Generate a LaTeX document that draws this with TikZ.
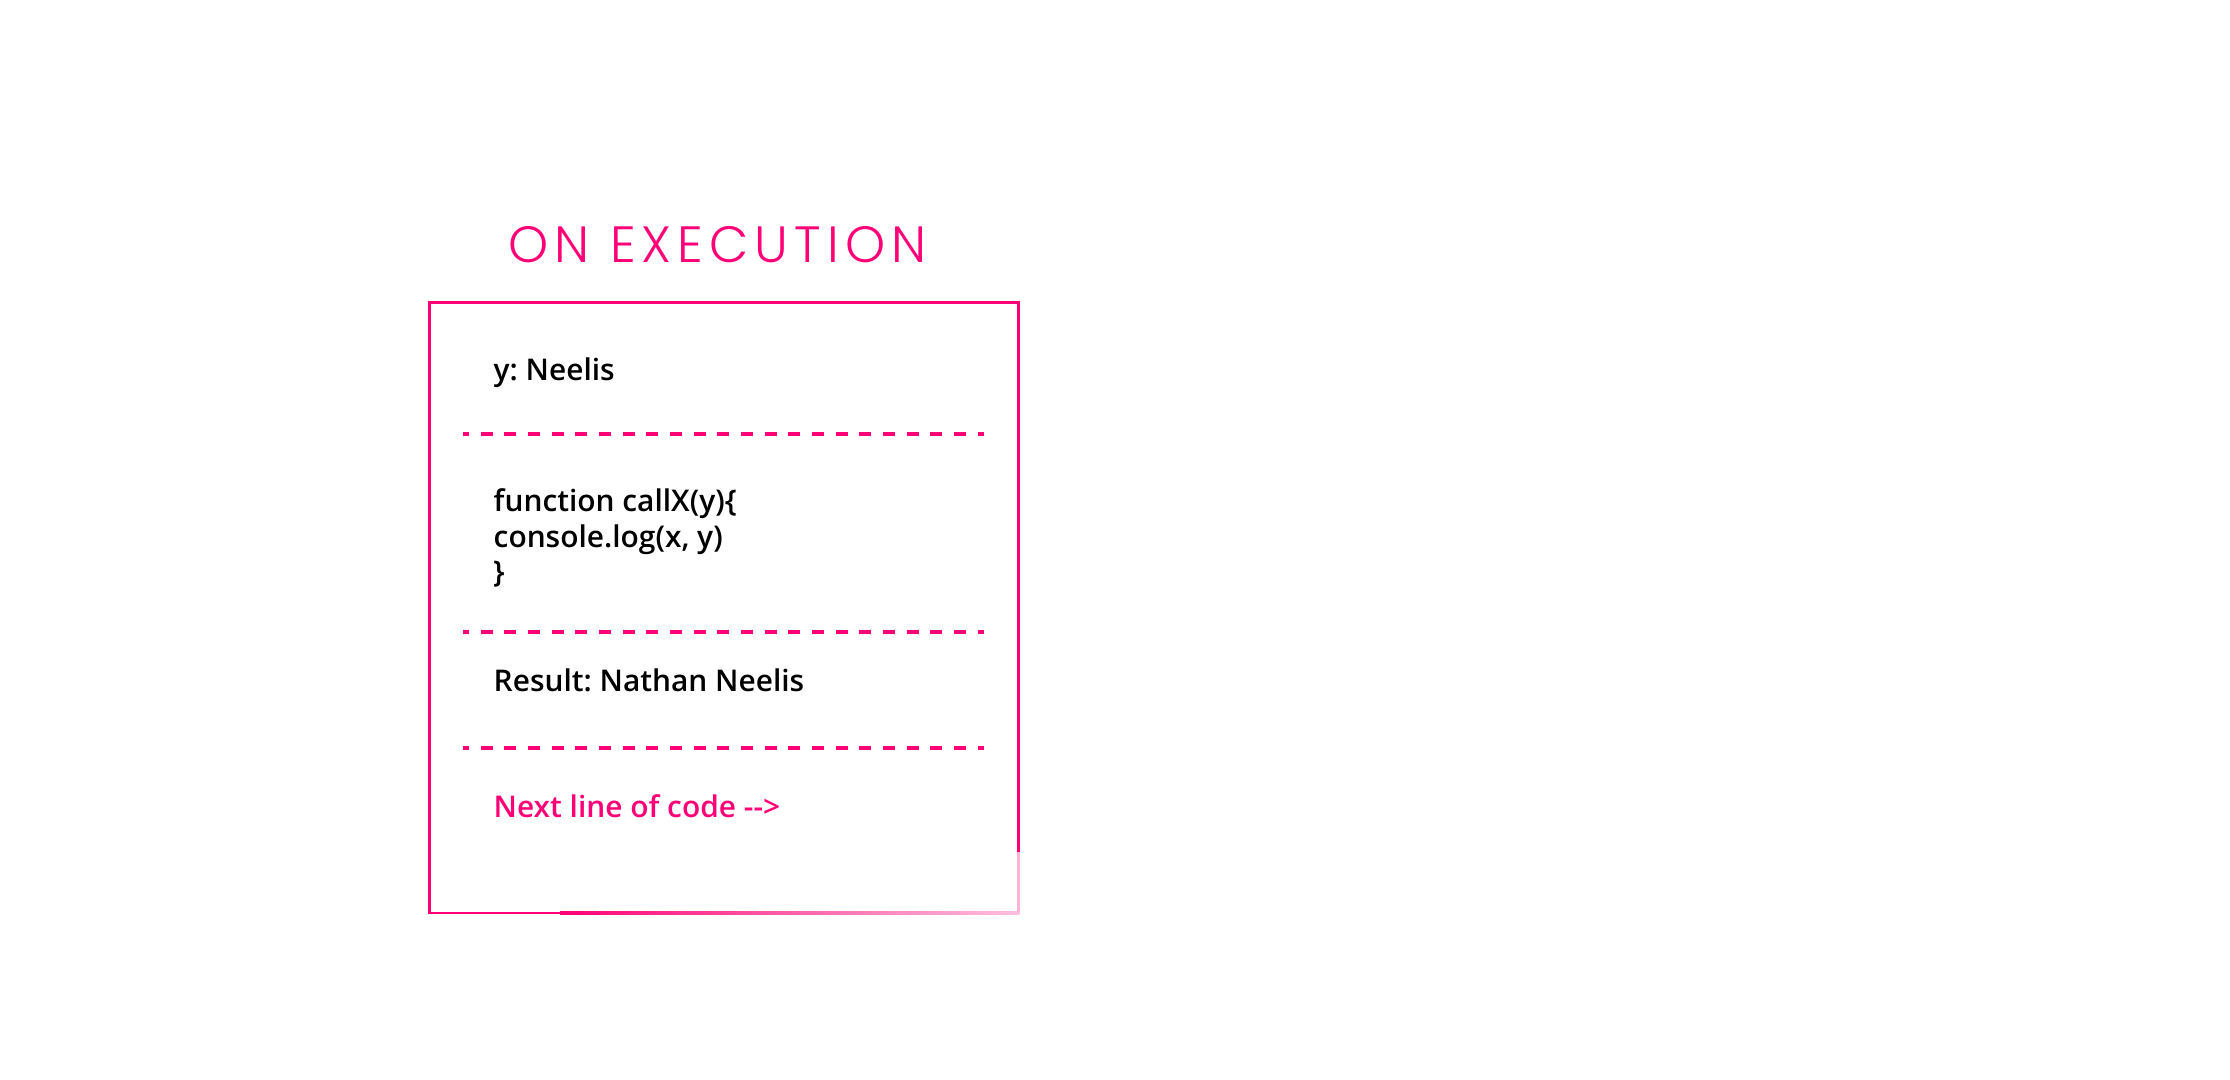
\documentclass[tikz,border=0pt]{standalone}
\usepackage{fontspec}
\IfFontExistsTF{Open Sans SemiBold}
{\newfontfamily\bodyfont{Open Sans SemiBold}}
{\IfFontExistsTF{Open Sans Semibold}
{\newfontfamily\bodyfont{Open Sans Semibold}}
{\newfontfamily\bodyfont{Open Sans}[RawFeature={embolden=1.5}]}}
\IfFontExistsTF{Poppins Light}
{\newfontfamily\titlefont{Poppins Light}[LetterSpace=12]}
{\newfontfamily\titlefont{Poppins}[LetterSpace=12]}
\definecolor{execpink}{RGB}{255,0,119}

\begin{document}
\frenchspacing
\begin{tikzpicture}[
x=0.01cm, y=-0.01cm,
every node/.style={
anchor=base west,
inner sep=0pt,
align=left,
font=\bodyfont\fontsize{8.5}{10.1}\selectfont
},
frame/.style={
draw=execpink,
line width=0.85pt
},
separator/.style={
draw=execpink,
line width=0.95pt,
dash pattern=on 0.118cm off 0.1185cm,
dash phase=0.059cm
}
]

\useasboundingbox (0,0) rectangle (2230,1080);

\node[font=\titlefont\fontsize{14.5}{17}\selectfont, text=execpink] (title) at (508,263)
{ON EXECUTION};

% box
\draw[frame] (1018,852) -- (1018,303) -- (429,303) -- (429,913) -- (560,913);
\shade[left color=execpink, right color=execpink!25] (560,911.8) rectangle (1019.4,914.2);
\draw[frame, draw=execpink!30] (1018,852) -- (1018,912);

\node (arg) at (493,381)
{y: Neelis};

% last line sits on the coordinate
\node (fn) at (493,583)
{function callX(y)\{\\
console.log(x, y)\\
\}};

\node (result) at (493,692)
{Result: Nathan Neelis};

\node[text=execpink] (next) at (493,818)
{Next line of code -->};

% separators
\draw[separator] (463,434) -- (984,434);
\draw[separator] (463,632) -- (984,632);
\draw[separator] (463,748) -- (984,748);

\end{tikzpicture}
\end{document}
